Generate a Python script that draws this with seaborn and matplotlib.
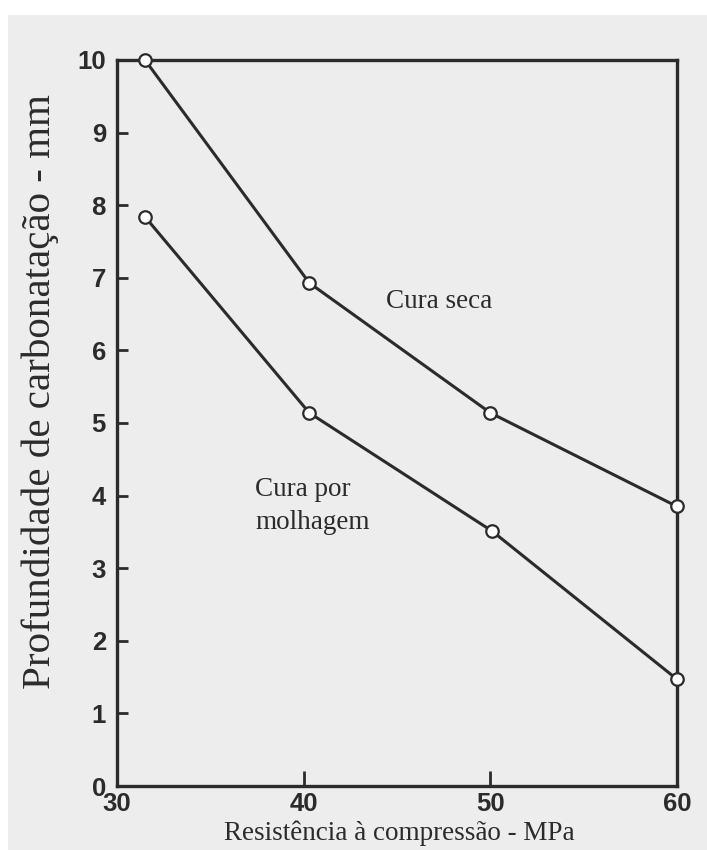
import matplotlib
matplotlib.use("Agg")
import matplotlib.pyplot as plt
from matplotlib.patches import Rectangle
import seaborn as sns
import pandas as pd

# ---- data ----
resistencia_seca = [31.5, 40.3, 50.0, 60.0]
prof_seca = [10.0, 6.93, 5.14, 3.85]
resistencia_molhagem = [31.5, 40.3, 50.1, 60.0]
prof_molhagem = [7.84, 5.14, 3.51, 1.47]
x_ticks = [30, 40, 50, 60]
y_ticks = [0, 1, 2, 3, 4, 5, 6, 7, 8, 9, 10]
x_label = "Resistência à compressão - MPa"
y_label = "Profundidade de carbonatação - mm"
label_seca = "Cura seca"
label_molhagem = "Cura por\nmolhagem"

df = pd.concat([
    pd.DataFrame({"x": resistencia_seca, "y": prof_seca, "serie": label_seca}),
    pd.DataFrame({"x": resistencia_molhagem, "y": prof_molhagem, "serie": label_molhagem}),
])

sns.set_theme(style="ticks")
bg = "#ededed"
ink = "#2b2b2b"

fig = plt.figure(figsize=(7.07, 8.5), dpi=100, facecolor="white")
# scanned page area (white strip at top and left edge)
fig.patches.append(Rectangle((8 / 707, 0), 1, 1 - 15 / 850, transform=fig.transFigure,
                             facecolor=bg, edgecolor="none", zorder=-10))
ax = fig.add_axes([117 / 707, 1 - 786 / 850, 560 / 707, 726 / 850])
ax.set_facecolor(bg)

sns.lineplot(data=df, x="x", y="y", hue="serie", palette=[ink, ink], marker="o",
             markersize=9, markerfacecolor="white", markeredgecolor=ink,
             markeredgewidth=1.6, linewidth=2.2, legend=False, ax=ax,
             clip_on=False, zorder=3, sort=False)

ax.set_xlim(30, 60)
ax.set_ylim(0, 10)
ax.set_xticks(x_ticks)
ax.set_yticks(y_ticks)

for s in ax.spines.values():
    s.set_visible(True)
    s.set_linewidth(2.4)
    s.set_color(ink)

tick_font = "Liberation Sans"
ax.tick_params(axis="y", direction="in", length=8, width=2, color=ink, pad=8)
ax.tick_params(axis="x", direction="in", length=11, width=2, color=ink, pad=4)
for lab in ax.get_xticklabels() + ax.get_yticklabels():
    lab.set_fontfamily(tick_font)
    lab.set_fontsize(18.5)
    lab.set_fontweight("bold")
    lab.set_color(ink)

serif = "Liberation Serif"
ax.set_xlabel(x_label, fontfamily=serif, fontsize=19.5, color=ink)
ax.set_ylabel(y_label, fontfamily=serif, fontsize=29.5, color=ink)
ax.xaxis.set_label_coords(0.505, -0.048)
ax.yaxis.set_label_coords(-0.103, 0.543)

ax.text(44.4, 6.67, label_seca, fontfamily=serif, fontsize=19.5, color=ink,
        ha="left", va="center")
ax.text(37.4, 3.86, label_molhagem, fontfamily=serif, fontsize=19.5, color=ink,
        ha="left", va="center", linespacing=1.4)

fig.savefig("out.png", dpi=100, facecolor=fig.get_facecolor())
